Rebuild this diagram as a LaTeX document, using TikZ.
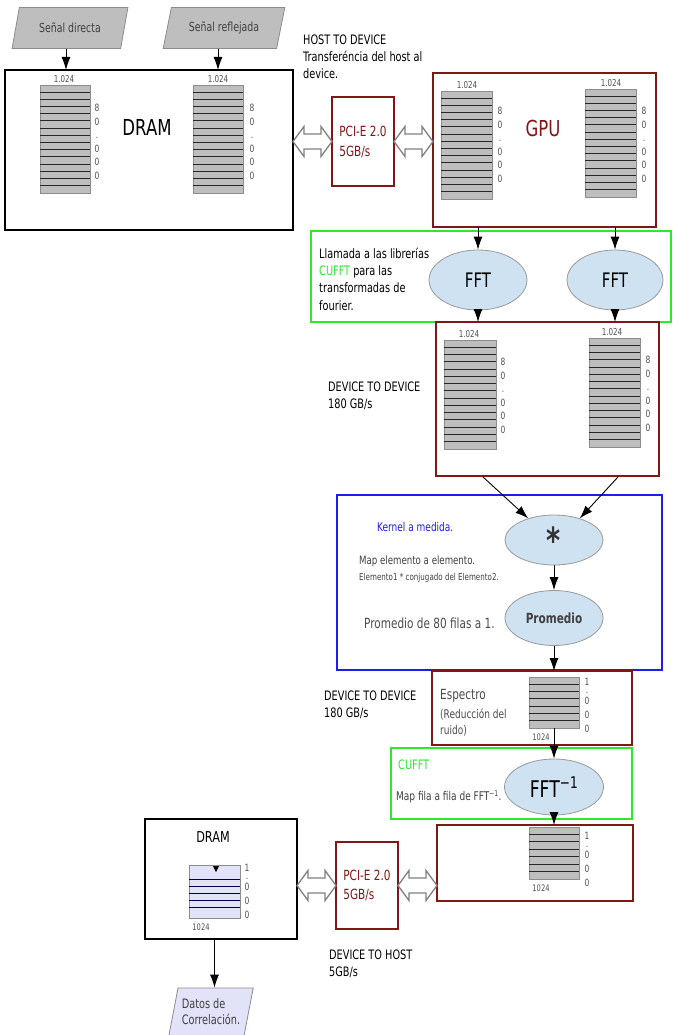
\documentclass[tikz,border=0pt]{standalone}
\usepackage{fontspec}
\setmainfont{DejaVu Sans}[FakeStretch=0.75]
\usetikzlibrary{arrows.meta,calc,shapes.geometric}
\definecolor{rojo}{RGB}{128,22,22}
\definecolor{verde}{RGB}{45,232,45}
\definecolor{azul}{RGB}{30,30,235}
\definecolor{celeste}{RGB}{207,226,242}
\definecolor{lila}{RGB}{226,226,248}
\definecolor{grisfondo}{RGB}{190,190,190}
\definecolor{gristexto}{RGB}{80,80,80}
\newcommand{\fz}[2]{\fontsize{#1}{#2}\selectfont}
\newcommand{\matriz}[7][grisfondo]{%
  \node[matbox,fill=#1,minimum width=#5pt,minimum height=#6pt] (#2) at (#3+#5/2,#4+#6/2) {};
  \pgfmathtruncatemacro{\nlin}{#7-1}
  \foreach \i in {1,...,\nlin}
    \draw[matlin] ($(#2.north west)!\i/#7!(#2.south west)$) -- ($(#2.north east)!\i/#7!(#2.south east)$);}
\newcommand{\columna}[4]{\foreach \off/\dg [count=\cnt] in #4 \node[digito] (#1-\cnt) at (#2,#3+\off) {\dg};}
\newcommand{\dflecha}[2]{\draw[hueca] (#1) -- ($(#1)+(11,-15)$) -- ($(#1)+(11,-7.5)$) -- ($(#2)+(-11,-7.5)$) -- ($(#2)+(-11,-15)$) -- (#2) -- ($(#2)+(-11,15)$) -- ($(#2)+(-11,7.5)$) -- ($(#1)+(11,7.5)$) -- ($(#1)+(11,15)$) -- cycle;}
\def\largo{0/8,13.6/0,27.2/.,40.8/0,54.4/0,68/0}
\def\corta{0/1,8/.,19/0,33/0,47/0}
\begin{document}
\begin{tikzpicture}[x=1pt,y=-1pt,
  tam/.style 2 args={minimum width=#1pt,minimum height=#2pt},
  marco/.style={draw=#1,line width=1.4pt,inner sep=0pt,outer sep=0pt},
  matbox/.style={draw=black!45,line width=0.6pt,inner sep=0pt,outer sep=0pt},
  matlin/.style={black!85,line width=1pt},
  digito/.style={font=\fz{10}{12},text=gristexto,inner sep=0pt,text height=7pt,text depth=0pt},
  rotulo/.style={font=\fz{9.5}{11},text=gristexto,inner sep=0pt},
  elipse/.style={ellipse,draw=black!40,fill=celeste,line width=0.8pt,inner sep=0pt},
  entrada/.style={trapezium,trapezium stretches=true,draw=black!45,line width=0.8pt,inner sep=0pt,align=left},
  texto/.style={anchor=west,align=left,inner sep=0pt},
  flecha/.style={-{Latex[length=13pt,width=9pt]},line width=0.9pt},
  hueca/.style={draw=black!50,fill=white,line width=1.3pt,line join=miter}]
\fill[white] (0,0) rectangle (672,1035);
\useasboundingbox (0,0) rectangle (672,1035);

\node[entrada,tam={116}{41},trapezium left angle=66,trapezium right angle=114,fill=grisfondo,font=\fz{12.5}{14},text=black!75] (sd) at (70,28) {Señal directa};
\node[entrada,tam={122}{41},trapezium left angle=66,trapezium right angle=114,fill=grisfondo,font=\fz{12.5}{14},text=black!75] (sr) at (224,28) {Señal reflejada};

\node[marco=black,tam={288}{160}] (dram) at (149,150) {};
\node[font=\fz{22}{26}] (tdram) at (147,127) {DRAM};
\draw[flecha] ([xshift=-4pt]sd.center |- sd.south) -- ([xshift=-4pt]sd.center |- dram.north);
\draw[flecha] ([xshift=-6pt]sr.center |- sr.south) -- ([xshift=-6pt]sr.center |- dram.north);
\matriz{m1}{40}{85}{50}{108}{15}
\node[rotulo] (r1) at (64,79) {1.024};
\columna{c1}{97}{108}{\largo}
\matriz{m2}{193}{85}{50}{108}{15}
\node[rotulo] (r2) at (218,79) {1.024};
\columna{c2}{252}{108}{\largo}

\node[marco=rojo,tam={62}{89},align=left,text=rojo,font=\fz{14}{20}] (pci1) at (363,141.5) {PCI-E 2.0\\5GB/s};
\node[texto,font=\fz{13}{17}] (h2d) at (303,57) {HOST TO DEVICE\\Transferéncia del host al\\device.};

\node[marco=rojo,tam={223}{154}] (gpu) at (544.5,150) {};
\node[font=\fz{22}{26},text=rojo] (tgpu) at (543,128) {GPU};
\matriz{m3}{441}{91}{51}{108}{15}
\node[rotulo] (r3) at (467,85) {1.024};
\columna{c3}{500}{111}{\largo}
\matriz{m4}{585}{89}{51}{108}{15}
\node[rotulo] (r4) at (611,83) {1.024};
\columna{c4}{644}{111}{\largo}

\coordinate (a1) at (dram.east |- pci1.west);
\dflecha{a1}{pci1.west}
\coordinate (a2) at (gpu.west |- pci1.east);
\dflecha{pci1.east}{a2}

\node[marco=verde,tam={360}{91}] (cufft1) at (491,276.5) {};
\node[texto,font=\fz{13}{17.3}] (tllam) at (319,279) {Llamada a las librerías\\\textcolor{verde}{CUFFT} para las\\transformadas de\\fourier.};
\node[elipse,tam={98}{60},font=\fz{20}{24}] (fft1) at (478,280) {FFT};
\node[elipse,tam={96}{60},font=\fz{20}{24}] (fft2) at (615,280) {FFT};
\draw[flecha] (fft1 |- gpu.south) -- (fft1.north);
\draw[flecha] (fft2 |- gpu.south) -- (fft2.north);

\node[marco=rojo,tam={223}{154}] (d2d) at (547.5,399) {};
\matriz{m5}{444}{340}{52}{109}{15}
\node[rotulo] (r5) at (469,334) {1.024};
\columna{c5}{503}{362}{\largo}
\matriz{m6}{589}{338}{51}{109}{15}
\node[rotulo] (r6) at (612,332) {1.024};
\columna{c6}{648}{360}{\largo}
\draw[flecha] (fft1.south) -- (fft1 |- d2d.north);
\draw[flecha] (fft2.south) -- (fft2 |- d2d.north);
\node[texto,font=\fz{13}{17}] (td2d1) at (328,396) {DEVICE TO DEVICE\\180 GB/s};

\node[marco=azul,tam={325}{175}] (kernel) at (499.5,582.5) {};
\node[texto,font=\fz{12}{14},text=azul] (tker) at (377,527) {Kernel a medida.};
\node[texto,font=\fz{11.5}{14},text=black!75] (tmap) at (359,561) {Map elemento a elemento.};
\node[texto,font=\fz{9.5}{11},text=black!75] (tele) at (359,578) {Elemento1 * conjugado del Elemento2.};
\node[texto,font=\fz{14}{17},text=black!70] (tprom) at (364,623) {Promedio de 80 filas a 1.};
\node[elipse,tam={98}{50},font=\fz{36}{36}\bfseries,text=black!80] (conj) at (554,540) {\raisebox{-6pt}{*}};
\node[elipse,tam={98}{55},font=\fz{14}{17}\bfseries,text=black!75] (prom) at (554,618) {Promedio};
\coordinate (s1) at (483,477);
\coordinate (s2) at (618,477);
\draw[flecha] (s1) -- (conj.140);
\draw[flecha] (s2) -- (conj.40);
\draw[flecha] (conj.south) -- (prom.north);

\node[marco=rojo,tam={200}{74}] (esp) at (532,708) {};
\draw[flecha] (prom.south) -- (prom |- esp.north);
\matriz{m7}{529}{677}{50}{51}{7}
\node[rotulo,font=\fz{9}{11}] (r7) at (541,737) {1024};
\columna{c7}{587}{682}{\corta}
\node[texto,font=\fz{14}{17},text=black!70] (tesp) at (440,696) {Espectro};
\node[texto,font=\fz{12}{16},text=black!70] (tred) at (440,722) {(Reducción del\\ruido)};
\node[texto,font=\fz{13}{17}] (td2d2) at (324,705) {DEVICE TO DEVICE\\180 GB/s};

\node[marco=verde,tam={241}{71}] (cufft2) at (511.5,783.5) {};
\node[texto,font=\fz{13}{15},text=verde] (tcu) at (398,765) {CUFFT};
\node[texto,font=\fz{12}{14},text=black!75] (tfila) at (396,797) {Map fila a fila de FFT\textsuperscript{−1}.};
\node[elipse,tam={99}{56},font=\fz{23}{26}] (fftinv) at (554,787) {FFT\textsuperscript{−1}};
\draw[flecha] (m7.south) -- (fftinv.north);

\node[marco=rojo,tam={196}{76}] (d2h) at (535,863) {};
\draw[flecha] (fftinv.south) -- (fftinv |- d2h.north);
\matriz{m8}{529}{827}{50}{52}{7}
\node[rotulo,font=\fz{9}{11}] (r8) at (541,888) {1024};
\columna{c8}{587}{836}{\corta}

\node[marco=rojo,tam={62}{87},align=left,text=rojo,font=\fz{14}{19}] (pci2) at (367,885.5) {PCI-E 2.0\\5GB/s};
\node[texto,font=\fz{13}{17}] (td2h) at (329,964) {DEVICE TO HOST\\5GB/s};

\node[marco=black,tam={152}{120}] (dram2) at (221,879) {};
\node[font=\fz{15}{18}] (tdram2) at (213,837) {DRAM};
\node[matbox,fill=lila,tam={51}{53}] (m9) at (214.5,891.5) {};
\foreach \off in {14,21,28,35,42}
  \draw[matlin,draw=blue!30!black] ($(m9.north west)+(0,\off)$) -- ($(m9.north east)+(0,\off)$);
\fill[black] (213,866) -- (219,866) -- (216,872) -- cycle;
\node[rotulo,font=\fz{9}{11}] (r9) at (201,927) {1024};
\columna{c9}{247}{868}{\corta}

\coordinate (a3) at (dram2.east |- pci2.west);
\dflecha{a3}{pci2.west}
\coordinate (a4) at (d2h.west |- pci2.east);
\dflecha{pci2.east}{a4}

\node[entrada,tam={85}{48},trapezium left angle=72.6,trapezium right angle=107.4,fill=lila,font=\fz{13}{16},text=black!75] (datos) at (211,1012) {Datos de\\Correlación.};
\draw[flecha] (m9 |- dram2.south) -- (m9 |- datos.north);
\end{tikzpicture}
\end{document}
